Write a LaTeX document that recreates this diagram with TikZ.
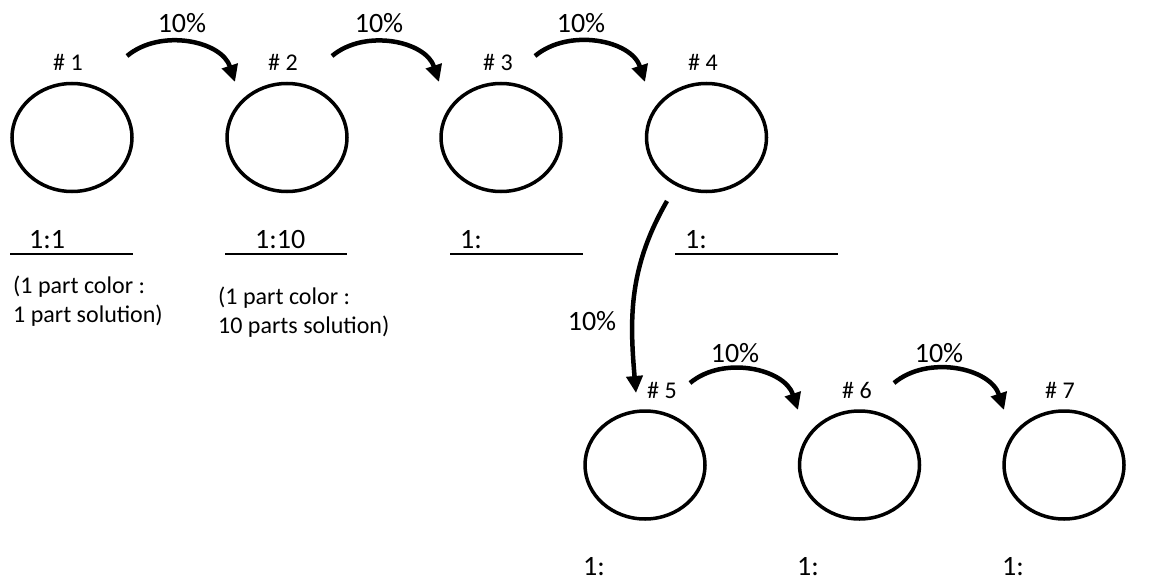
\documentclass[tikz,border=0pt]{standalone}
\usepackage{fontspec}
\setmainfont{Carlito}
\usetikzlibrary{shapes.geometric,arrows.meta}

\begin{document}
\begin{tikzpicture}[x=1pt,y=1pt,
  vial/.style={draw, ellipse, line width=3.5pt, minimum width=120pt, minimum height=108pt, inner sep=0pt},
  flow/.style={line width=4.5pt, -{Triangle[length=17pt,width=16pt]}},
  tag/.style={anchor=base, inner sep=0pt, font=\fontsize{24}{28}\selectfont},
  pct/.style={anchor=base, inner sep=0pt, font=\fontsize{28}{30}\selectfont},
  ratio/.style={anchor=base west, inner sep=0pt, font=\fontsize{28}{30}\selectfont},
  note/.style={anchor=base west, align=left, inner sep=0pt, font=\fontsize{24}{29}\selectfont},
  blank/.style={line width=2.5pt}]
\useasboundingbox (0,0) rectangle (1166,-580);

% dilution vials
\node[vial] (c1) at (72,-137.5) {};
\node[vial] (c2) at (287,-137.5) {};
\node[vial] (c3) at (501,-137.5) {};
\node[vial] (c4) at (706.5,-137.5) {};
\node[vial] (c5) at (645,-465) {};
\node[vial] (c6) at (859.5,-465) {};
\node[vial] (c7) at (1064,-465) {};

\node[tag] (n1) at (68,-71) {\# 1};
\node[tag] (n2) at (283,-71) {\# 2};
\node[tag] (n3) at (498,-71) {\# 3};
\node[tag] (n4) at (703,-71) {\# 4};
\node[tag] (n5) at (662,-398) {\# 5};
\node[tag] (n6) at (857,-398) {\# 6};
\node[tag] (n7) at (1060,-398) {\# 7};

% ratios
\node[ratio] (r1) at (29,-248) {1:1};
\node[ratio] (r2) at (255,-248) {1:10};
\node[ratio] (r3) at (460,-248) {1:};
\node[ratio] (r4) at (685,-248) {1:};
\node[ratio] (r5) at (583,-575) {1:};
\node[ratio] (r6) at (797,-575) {1:};
\node[ratio] (r7) at (1002,-575) {1:};
\draw[blank] (10,-254) -- (133,-254);
\draw[blank] (225,-254) -- (347,-254);
\draw[blank] (450,-254) -- (583,-254);
\draw[blank] (675,-254) -- (838,-254);
\draw[blank] (573,-581) -- (737,-581);
\draw[blank] (788,-581) -- (952,-581);
\draw[blank] (993,-581) -- (1157,-581);

\node[note] (p1) at (13,-322) {(1 part color :\\1 part solution)};
\node[note] (p2) at (218,-333) {(1 part color :\\10 parts solution)};

% transfers
\coordinate (s1) at (127,-56);
\coordinate (t1) at (235,-82);
\coordinate (s2) at (332,-56);
\coordinate (t2) at (439,-82);
\coordinate (s3) at (535,-56);
\coordinate (t3) at (645,-82);
\coordinate (s4) at (667,-201);
\coordinate (t4) at (636,-393);
\coordinate (s5) at (690,-383);
\coordinate (t5) at (798,-410);
\coordinate (s6) at (894,-383);
\coordinate (t6) at (1004,-410);

\draw[flow] (s1) to[out=40,in=108] (t1);
\draw[flow] (s2) to[out=40,in=108] (t2);
\draw[flow] (s3) to[out=40,in=108] (t3);
\draw[flow] (s4) to[out=-120,in=95] (t4);
\draw[flow] (s5) to[out=40,in=108] (t5);
\draw[flow] (s6) to[out=40,in=108] (t6);

\node[pct] (q1) at (182,-33) {10\%};
\node[pct] (q2) at (379,-33) {10\%};
\node[pct] (q3) at (581,-33) {10\%};
\node[pct] (q4) at (592,-330) {10\%};
\node[pct] (q5) at (735,-362) {10\%};
\node[pct] (q6) at (939,-362) {10\%};
\end{tikzpicture}
\end{document}
